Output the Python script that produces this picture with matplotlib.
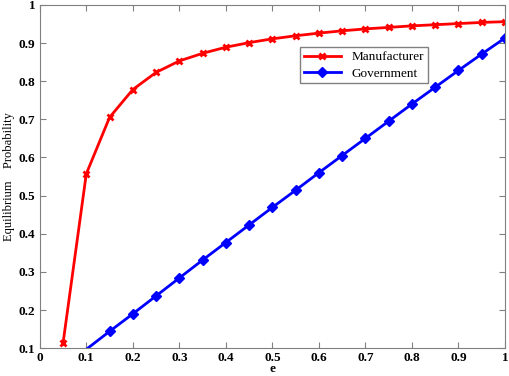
import matplotlib.pyplot as plt

e_man = [0.05, 0.1, 0.15, 0.2, 0.25, 0.3, 0.35, 0.4, 0.45, 0.5,
         0.55, 0.6, 0.65, 0.7, 0.75, 0.8, 0.85, 0.9, 0.95, 1.0]
p_man = [0.113, 0.557, 0.705, 0.778, 0.823, 0.853, 0.873, 0.889, 0.901, 0.911,
         0.919, 0.926, 0.932, 0.937, 0.941, 0.945, 0.948, 0.951, 0.954, 0.956]

e_gov = [0.1, 0.15, 0.2, 0.25, 0.3, 0.35, 0.4, 0.45, 0.5, 0.55,
         0.6, 0.65, 0.7, 0.75, 0.8, 0.85, 0.9, 0.95, 1.0]
p_gov = [0.097, 0.144, 0.19, 0.237, 0.284, 0.331, 0.377, 0.423, 0.469, 0.514,
         0.56, 0.605, 0.65, 0.695, 0.74, 0.784, 0.828, 0.871, 0.913]

plt.rcParams['font.family'] = ['Liberation Serif', 'DejaVu Serif']

fig = plt.figure(figsize=(5.1, 3.76), dpi=100)
ax = fig.add_axes([0.078, 0.074, 0.912, 0.913])

ax.plot(e_man, p_man, color='red', lw=2, marker='x', ms=5, mew=2,
        label='Manufacturer')
ax.plot(e_gov, p_gov, color='blue', lw=2, marker='D', ms=5,
        markevery=slice(1, None), label='Government')

ax.set_xlim(0, 1)
ax.set_ylim(0.1, 1)
ax.set_xticks([0, 0.1, 0.2, 0.3, 0.4, 0.5, 0.6, 0.7, 0.8, 0.9, 1])
ax.set_xticklabels(['0', '0.1', '0.2', '0.3', '0.4', '0.5', '0.6', '0.7', '0.8', '0.9', '1'])
ax.set_yticks([0.1, 0.2, 0.3, 0.4, 0.5, 0.6, 0.7, 0.8, 0.9, 1])
ax.set_yticklabels(['0.1', '0.2', '0.3', '0.4', '0.5', '0.6', '0.7', '0.8', '0.9', '1'])
ax.tick_params(direction='in', top=True, right=True, labelsize=9.5, length=4,
               color='#808080', pad=3)
for lab in ax.get_xticklabels() + ax.get_yticklabels():
    lab.set_fontweight('bold')
for s in ax.spines.values():
    s.set_color('#808080')

ax.set_xlabel('e', fontsize=9.5, fontweight='bold')
ax.xaxis.set_label_coords(0.5, -0.044)
ax.set_ylabel('Equilibrium    Probability', fontsize=9)
ax.yaxis.set_label_coords(-0.054, 0.5)

leg = ax.legend(loc='upper left', bbox_to_anchor=(0.559, 0.877), fontsize=9.5,
                fancybox=False, framealpha=1, edgecolor='#808080',
                borderpad=0.3, labelspacing=0.3, handlelength=2.8,
                borderaxespad=0)

fig.savefig('out.png', dpi=100)
